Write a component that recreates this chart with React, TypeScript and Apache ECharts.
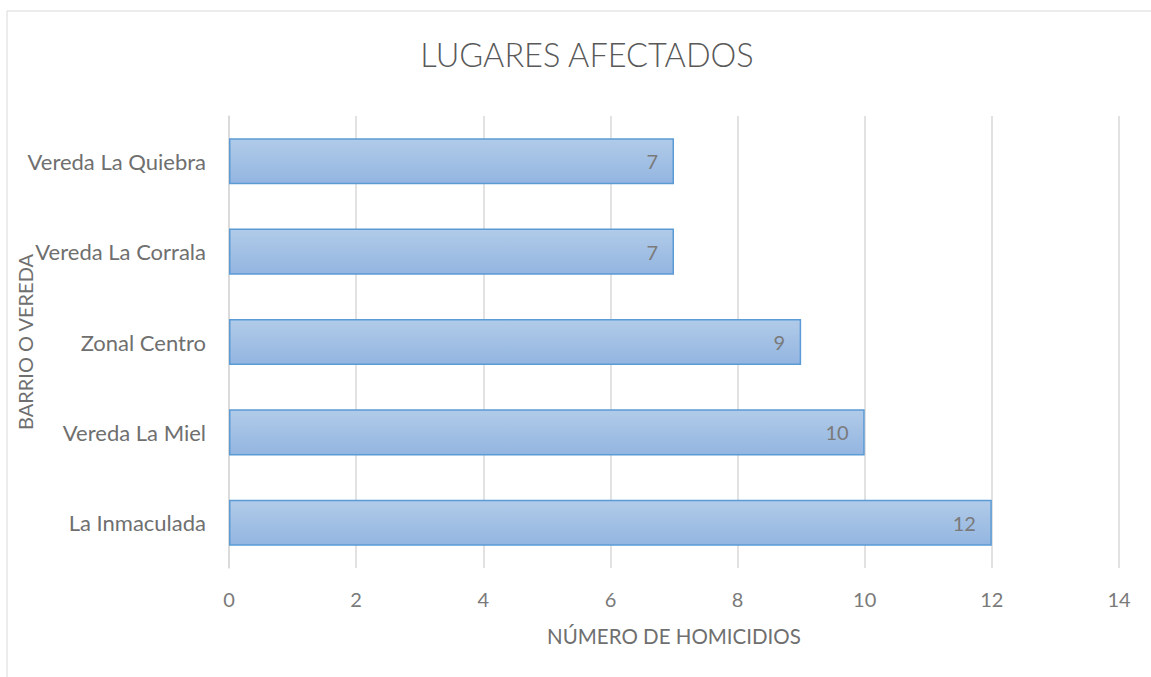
import React, { useEffect, useRef } from "react";
import * as echarts from "echarts";

const categories = ["La Inmaculada", "Vereda La Miel", "Zonal Centro", "Vereda La Corrala", "Vereda La Quiebra"];
const values = [12, 10, 9, 7, 7];
const titleText = "LUGARES AFECTADOS";
const xAxisName = "NÚMERO DE HOMICIDIOS";
const yAxisName = "BARRIO O VEREDA";

const FONT = "Lato, 'Open Sans', 'Liberation Sans', sans-serif";

export default function App() {
  const ref = useRef<HTMLDivElement>(null);
  useEffect(() => {
    document.body.style.margin = "0";
    const chart = echarts.init(ref.current!, null, { renderer: "svg" });
    chart.setOption({
      animation: false,
      backgroundColor: "#ffffff",
      textStyle: { fontFamily: FONT },
      graphic: [
        {
          type: "rect",
          shape: { x: 7, y: 11, width: 1160, height: 700 },
          style: { fill: "none", stroke: "#d9d9d9", lineWidth: 1 },
          silent: true,
        },
      ],
      title: {
        text: titleText,
        left: 582,
        textAlign: "center",
        top: 33,
        textStyle: { fontFamily: FONT, fontSize: 32.5, fontWeight: 300, color: "#595959" },
      },
      grid: { left: 229, right: 32, top: 116, bottom: 109, containLabel: false, outerBoundsMode: "none" },
      xAxis: {
        type: "value",
        min: 0,
        max: 14,
        interval: 2,
        name: xAxisName,
        nameLocation: "middle",
        nameGap: 57,
        nameMoveOverlap: false,
        nameTextStyle: { fontFamily: FONT, fontSize: 20.5, color: "#6f6f6f" },
        axisLine: { show: false },
        axisTick: { show: false },
        axisLabel: { fontFamily: FONT, fontSize: 20, color: "#7a7a7a", margin: 21 },
        splitLine: { show: true, lineStyle: { color: "#d9d9d9", width: 1.5 } },
      },
      yAxis: {
        type: "category",
        data: categories,
        name: yAxisName,
        nameLocation: "middle",
        nameRotate: 90,
        nameGap: 194,
        nameMoveOverlap: false,
        nameTextStyle: { fontFamily: FONT, fontSize: 20, color: "#6f6f6f" },
        axisLine: { show: true, lineStyle: { color: "#d9d9d9", width: 1.5 } },
        axisTick: { show: false },
        axisLabel: { fontFamily: FONT, fontSize: 22, color: "#6f6f6f", margin: 23 },
        splitLine: { show: false },
      },
      series: [
        {
          type: "bar",
          data: values,
          barCategoryGap: "49%",
          itemStyle: {
            color: new echarts.graphic.LinearGradient(0, 0, 0, 1, [
              { offset: 0, color: "#b1cbe9" },
              { offset: 1, color: "#93b5e0" },
            ]),
            borderColor: "#5b9bd5",
            borderWidth: 1.5,
          },
          label: {
            show: true,
            position: "insideRight",
            distance: 16,
            fontFamily: FONT,
            fontSize: 20,
            color: "#7a7a7a",
          },
        },
      ],
    });
    return () => chart.dispose();
  }, []);
  return <div ref={ref} style={{ width: 1151, height: 677 }} />;
}
